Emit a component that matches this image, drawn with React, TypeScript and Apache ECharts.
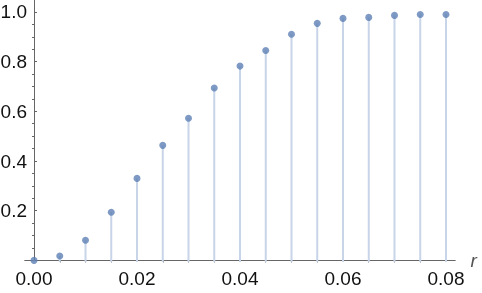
import React, { useEffect, useRef } from "react";
import * as echarts from "echarts";

const rValues = [0, 0.005, 0.01, 0.015, 0.02, 0.025, 0.03, 0.035, 0.04, 0.045, 0.05, 0.055, 0.06, 0.065, 0.07, 0.075, 0.08];
const yValues = [0, 0.018, 0.081, 0.194, 0.33, 0.463, 0.572, 0.694, 0.782, 0.845, 0.91, 0.954, 0.974, 0.978, 0.986, 0.99, 0.99];
const xMajorTicks = [0, 0.02, 0.04, 0.06, 0.08];
const xMinorTicks = [0.005, 0.01, 0.015, 0.025, 0.03, 0.035, 0.045, 0.05, 0.055, 0.065, 0.07, 0.075];
const yMajorTicks = [0.2, 0.4, 0.6, 0.8, 1.0];
const yMinorTicks = [0.05, 0.1, 0.15, 0.25, 0.3, 0.35, 0.45, 0.5, 0.55, 0.65, 0.7, 0.75, 0.85, 0.9, 0.95];

const X_MIN = -0.00175;
const X_MAX = 0.08175;
const Y_MIN = 0;
const Y_MAX = 1.048;

const DOT = "#5E81B5";
const STEM = "#C8D4E7";
const AXIS = "#666666";
const FONT = "'Liberation Sans', Arial, sans-serif";

export default function App() {
  const ref = useRef<HTMLDivElement>(null);
  useEffect(() => {
    if (!ref.current) return;
    const chart = echarts.init(ref.current, null, { renderer: "svg" });
    const data = rValues.map((r, i) => [r, yValues[i]]);
    const axisLine = { show: true, onZero: true, lineStyle: { color: AXIS, width: 1 } };
    chart.setOption({
      animation: false,
      grid: { left: 25, right: 27, top: 0, bottom: 32.6, containLabel: false, outerBoundsMode: "none" },
      xAxis: [
        {
          type: "value",
          min: X_MIN,
          max: X_MAX,
          axisLine,
          splitLine: { show: false },
          axisTick: { show: true, inside: true, length: 3, customValues: xMajorTicks, lineStyle: { color: AXIS } },
          axisLabel: {
            show: true,
            customValues: xMajorTicks,
            formatter: (v: number) => v.toFixed(2),
            fontSize: 19,
            fontFamily: FONT,
            color: "#111",
            margin: 9,
          },
          name: "r",
          nameLocation: "end",
          nameGap: 14,
          nameTextStyle: { fontSize: 19, fontStyle: "italic", fontFamily: FONT, color: "#555", verticalAlign: "middle" },
        },
        {
          type: "value",
          min: X_MIN,
          max: X_MAX,
          axisLine,
          splitLine: { show: false },
          axisTick: { show: true, inside: true, length: 2, customValues: xMinorTicks, lineStyle: { color: AXIS } },
          axisLabel: { show: false },
        },
      ],
      yAxis: [
        {
          type: "value",
          min: Y_MIN,
          max: Y_MAX,
          axisLine,
          splitLine: { show: false },
          axisTick: { show: true, inside: true, length: 3, customValues: yMajorTicks, lineStyle: { color: AXIS } },
          axisLabel: {
            show: true,
            customValues: yMajorTicks,
            formatter: (v: number) => v.toFixed(1),
            fontSize: 19,
            fontFamily: FONT,
            color: "#111",
            margin: -2,
          },
        },
        {
          type: "value",
          min: Y_MIN,
          max: Y_MAX,
          axisLine,
          splitLine: { show: false },
          axisTick: { show: true, inside: true, length: 2, customValues: yMinorTicks, lineStyle: { color: AXIS } },
          axisLabel: { show: false },
        },
      ],
      series: [
        {
          type: "custom",
          xAxisIndex: 0,
          yAxisIndex: 0,
          data,
          encode: { x: 0, y: 1 },
          renderItem: (params: any, api: any) => {
            const x = api.value(0);
            const y = api.value(1);
            const p0 = api.coord([x, 0]);
            const p1 = api.coord([x, y]);
            return {
              type: "line",
              shape: { x1: p0[0], y1: p0[1] + 1.5, x2: p1[0], y2: p1[1] },
              style: { stroke: STEM, lineWidth: 2 },
            };
          },
          z: 1,
        },
        {
          type: "scatter",
          xAxisIndex: 0,
          yAxisIndex: 0,
          data,
          symbol: "circle",
          symbolSize: 7,
          itemStyle: { color: DOT },
          z: 3,
        },
      ],
    });
    return () => chart.dispose();
  }, []);
  return <div ref={ref} style={{ position: "fixed", left: 0, top: 0, width: 482, height: 293 }} />;
}
